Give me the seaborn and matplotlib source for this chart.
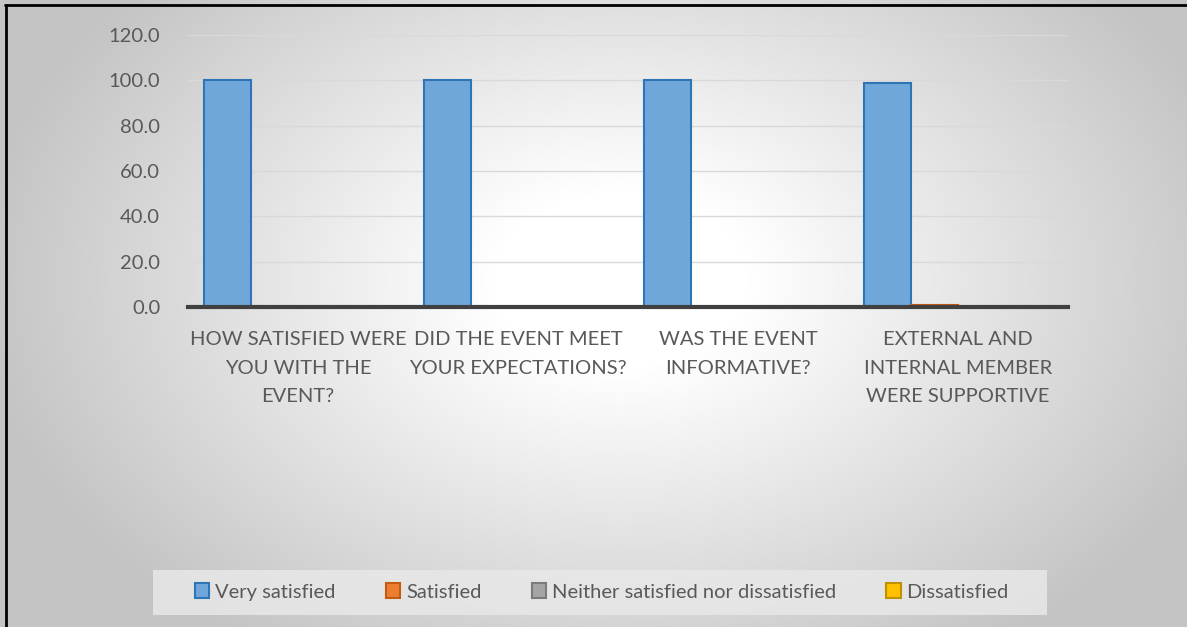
import matplotlib
matplotlib.use("Agg")
import matplotlib.pyplot as plt
import seaborn as sns
import numpy as np
import pandas as pd
from matplotlib.patches import Rectangle, Patch
from matplotlib.lines import Line2D

questions = [
    "HOW SATISFIED WERE\nYOU WITH THE\nEVENT?",
    "DID THE EVENT MEET\nYOUR EXPECTATIONS?",
    "WAS THE EVENT\nINFORMATIVE?",
    "EXTERNAL AND\nINTERNAL MEMBER\nWERE SUPPORTIVE",
]
responses = ["Very satisfied", "Satisfied", "Neither satisfied nor dissatisfied", "Dissatisfied"]
very_satisfied = [100.0, 100.0, 100.0, 99.0]
satisfied = [0.0, 0.0, 0.0, 1.0]
neither = [0.0, 0.0, 0.0, 0.0]
dissatisfied = [0.0, 0.0, 0.0, 0.0]

fills = ["#70A7DB", "#ED7D31", "#A5A5A5", "#FFC000"]
edges = ["#2E75B6", "#C55A11", "#7B7B7B", "#BF9000"]

df = pd.DataFrame({
    "question": questions * 4,
    "response": np.repeat(responses, 4),
    "value": very_satisfied + satisfied + neither + dissatisfied,
})

sns.set_style("white")
plt.rcParams["font.family"] = ["Lato", "DejaVu Sans"]
text_col = "#595959"
fs = 14.5

W, H = 1187, 627
fig = plt.figure(figsize=(W / 100, H / 100), dpi=100)

# radial gradient background
bg = fig.add_axes([0, 0, 1, 1], zorder=-10)
yy, xx = np.mgrid[0:H, 0:W]
r = np.sqrt(((xx - 620) / 640.0) ** 2 + ((yy - 280) / 440.0) ** 2)
shade = np.clip(1.0 - 0.23 * np.clip(r - 0.2, 0, None) / 0.8, 0.77, 1.0)
bg.imshow(np.dstack([shade] * 3), aspect="auto", extent=[0, 1, 0, 1])
bg.set_axis_off()

ax = fig.add_axes([188 / W, 1 - 307 / H, (1068 - 188) / W, (307 - 35) / H])
ax.patch.set_alpha(0)
sns.barplot(data=df, x="question", y="value", hue="response", hue_order=responses,
            palette=fills, saturation=1, width=0.855, gap=0, legend=False, ax=ax,
            errorbar=None, linewidth=1.5)

for i, cont in enumerate(ax.containers):
    for bar in cont:
        bar.set_edgecolor(edges[i])
        bar.set_linewidth(1.5)

ax.set_ylim(0, 120)
ax.set_yticks(np.arange(0, 121, 20))
ax.set_yticklabels([f"{v:.1f}" for v in np.arange(0, 121, 20)])
ax.yaxis.grid(True, color="#D9D9D9", linewidth=1)
ax.set_axisbelow(True)
for s in ["top", "right", "left"]:
    ax.spines[s].set_visible(False)
ax.spines["bottom"].set_color("#404040")
ax.spines["bottom"].set_linewidth(3)
ax.tick_params(axis="both", length=0, labelsize=fs, labelcolor=text_col)
ax.tick_params(axis="y", pad=20)
ax.tick_params(axis="x", pad=17)
ax.set_xlabel("")
ax.set_ylabel("")
for lbl in ax.get_xticklabels():
    lbl.set_linespacing(1.85)

# legend box
fig.patches.append(Rectangle((153 / W, 1 - 615 / H), (1047 - 153) / W, 45 / H,
                             transform=fig.transFigure, facecolor="#E8E8E8",
                             edgecolor="none", alpha=0.85, zorder=1))
handles = [Patch(facecolor=fills[i], edgecolor=edges[i], linewidth=1.5) for i in range(4)]
fig.legend(handles, responses, loc="center", bbox_to_anchor=(602 / W, 1 - 592 / H), ncol=4,
           frameon=False, fontsize=fs, labelcolor=text_col, handlelength=0.7,
           handleheight=0.7, handletextpad=0.3, columnspacing=2.5)

# border lines
fig.add_artist(Line2D([5 / W, 1], [1 - 5 / H, 1 - 5 / H], color="black", linewidth=2,
                      transform=fig.transFigure))
fig.add_artist(Line2D([5.5 / W, 5.5 / W], [0, 1 - 5 / H], color="black", linewidth=2,
                      transform=fig.transFigure))

fig.savefig("out.png", dpi=100)
